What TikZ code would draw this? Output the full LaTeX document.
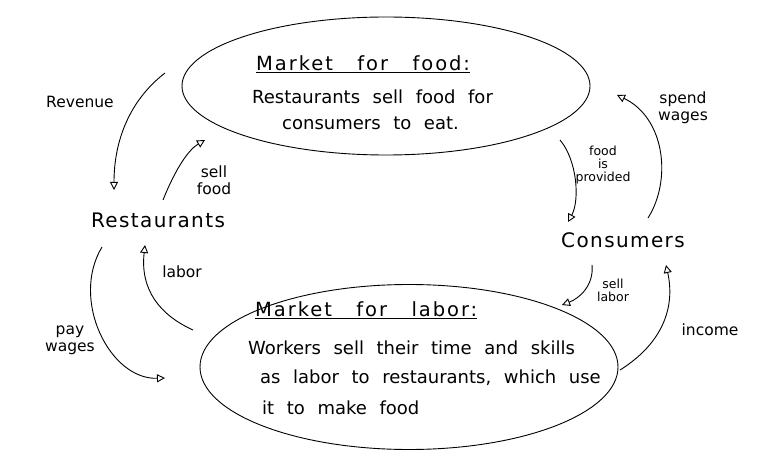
\documentclass[tikz,border=0pt]{standalone}
\usepackage{fontspec}
\setmainfont{DejaVu Sans}
\newfontfamily\titlefont[LetterSpace=10, WordSpace=3]{DejaVu Sans}
\newfontfamily\bodyfont[WordSpace=2.2]{DejaVu Sans}
\newfontfamily\bigfont[LetterSpace=7]{DejaVu Sans}
\usepackage{tikz}
\usetikzlibrary{arrows.meta,shapes.geometric}
\tikzset{
	mkt/.style={draw, ellipse, line width=0.9pt, inner sep=0pt},
	flow/.style={line width=0.9pt, -{Triangle[open,length=8pt,width=8pt]}},
	bigtxt/.style={font=\bigfont\fontsize{20}{24}\selectfont, inner sep=0pt},
	bodytxt/.style={font=\bodyfont\fontsize{18}{22}\selectfont, anchor=west, inner sep=0pt},
	titletxt/.style={font=\titlefont\fontsize{19.5}{23}\selectfont, anchor=west, inner sep=0pt},
	lbl/.style={font=\fontsize{15.5}{17}\selectfont, align=center, inner sep=0pt},
	smalllbl/.style={lbl, font=\fontsize{12.5}{13}\selectfont},
}
\begin{document}
\begin{tikzpicture}[x=1pt, y=-1pt]
			%%%%% START %%%%%
			\useasboundingbox (0, 0) rectangle (770, 462);
			
			% the two markets
			\node[mkt, minimum width=408, minimum height=138] (foodmkt) at (386, 86) {};
			\node[titletxt] (foodtitle) at (256, 64) {\underline{Market for food:}};
			\node[bodytxt] (foodline1) at (252, 97) {Restaurants sell food for};
			\node[bodytxt] (foodline2) at (282, 123) {consumers to eat.};
			
			\node[mkt, minimum width=418, minimum height=165] (labmkt) at (409, 367) {};
			\node[titletxt] (labtitle) at (255, 310) {\underline{Market for labor:}};
			\node[bodytxt] (labline1) at (248, 348) {Workers sell their time and skills};
			\node[bodytxt] (labline2) at (260, 378) {as labor to restaurants, which use};
			\node[bodytxt] (labline3) at (262, 408) {it to make food};
			
			% the two actors
			\node[bigtxt] (rest) at (158, 220) {Restaurants};
			\node[bigtxt] (cons) at (623, 240) {Consumers};
			
			% ends of the flows
			\coordinate (revS) at (165, 73);
			\coordinate (revE) at (114, 190);
			\coordinate (sfS) at (163, 200);
			\coordinate (sfE) at (205, 140);
			\coordinate (fpS) at (560, 140);
			\coordinate (fpE) at (568, 222);
			\coordinate (swS) at (648, 218);
			\coordinate (swE) at (617, 95);
			\coordinate (slS) at (592, 265);
			\coordinate (slE) at (562, 305);
			\coordinate (inS) at (620, 370);
			\coordinate (inE) at (666, 265);
			\coordinate (lbS) at (193, 330);
			\coordinate (lbE) at (145, 245);
			\coordinate (pwS) at (102, 247);
			\coordinate (pwE) at (165, 378);
			
			\draw[flow] (revS) .. controls (130, 100) and (114, 140) .. (revE);
			\draw[flow] (sfS) .. controls (175, 170) and (188, 150) .. (sfE);
			\draw[flow] (fpS) .. controls (577, 160) and (580, 200) .. (fpE);
			\draw[flow] (swS) .. controls (672, 180) and (665, 118) .. (swE);
			\draw[flow] (slS) .. controls (594, 285) and (580, 298) .. (slE);
			\draw[flow] (inS) .. controls (660, 345) and (676, 310) .. (inE);
			\draw[flow] (lbS) .. controls (160, 315) and (140, 290) .. (lbE);
			\draw[flow] (pwS) .. controls (70, 300) and (110, 380) .. (pwE);
			
			% flow labels
			\node[lbl] (revlbl) at (80, 102) {Revenue};
			\node[lbl] (sflbl) at (214, 180) {sell\\food};
			\node[smalllbl] (fplbl) at (603, 165) {food\\is\\provided};
			\node[lbl] (swlbl) at (683, 108) {spend\\wages};
			\node[smalllbl] (sllbl) at (613, 290) {sell\\labor};
			\node[lbl] (inlbl) at (710, 330) {income};
			\node[lbl] (lblbl) at (182, 272) {labor};
			\node[lbl] (pwlbl) at (70, 340) {pay\\wages};
			%%%%% END %%%%%
\end{tikzpicture}
\end{document}
